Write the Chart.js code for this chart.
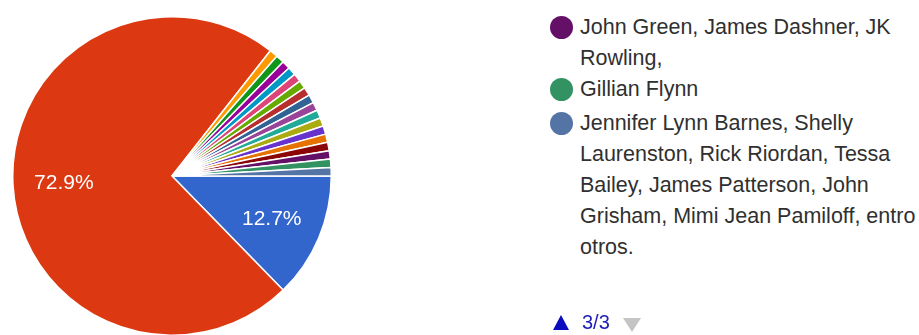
<!DOCTYPE html>
<html>
<head>
<meta charset="utf-8">
<script src="https://cdn.jsdelivr.net/npm/chart.js@4.4.0/dist/chart.umd.min.js"></script>
<style>
  html, body { margin: 0; padding: 0; width: 919px; height: 335px; overflow: hidden; background: #fff; }
  #wrap { position: absolute; left: 12px; top: 16px; width: 320px; height: 320px; }
  #legend { position: absolute; left: 550px; top: 12px; width: 390px; font-family: Arial, "Liberation Sans", sans-serif; font-size: 21.5px; line-height: 31px; color: #303030; }
  .item { position: relative; padding-left: 30px; }
  .item + .item + .item { margin-top: 3px; }
  .dot { position: absolute; left: 0; top: 4px; width: 23px; height: 23px; border-radius: 50%; }
  #pager { position: absolute; left: 0; top: 0; width: 919px; height: 335px; font-family: Arial, "Liberation Sans", sans-serif; font-size: 20px; }
  #pager .up { position: absolute; left: 553px; top: 315px; width: 0; height: 0; border-left: 8px solid transparent; border-right: 8px solid transparent; border-bottom: 15px solid #0b0bbf; }
  #pager .txt { position: absolute; left: 582px; top: 310px; line-height: 24px; color: #2020b8; }
  #pager .down { position: absolute; left: 623px; top: 318px; width: 0; height: 0; border-left: 9px solid transparent; border-right: 9px solid transparent; border-top: 14px solid #c4c4c4; }
</style>
</head>
<body>
<div id="wrap"><canvas id="c"></canvas></div>
<div id="legend"></div>
<div id="pager"></div>
<script>
// Responses per option (118 total)
const categories = ["", "", "", "", "", "", "", "", "", "", "", "", "", "", "", "",
  "John Green, James Dashner, JK Rowling,",
  "Gillian Flynn",
  "Jennifer Lynn Barnes, Shelly Laurenston, Rick Riordan, Tessa Bailey, James Patterson, John Grisham, Mimi Jean Pamiloff, entro otros."];
const values = [15, 86, 1, 1, 1, 1, 1, 1, 1, 1, 1, 1, 1, 1, 1, 1, 1, 1, 1];
const colors = ["#3366cc", "#dc3912", "#ff9900", "#109618", "#990099", "#0099c6", "#dd4477",
  "#66aa00", "#b82e2e", "#316395", "#994499", "#22aa99", "#aaaa11", "#6633cc", "#e67300",
  "#8b0707", "#651067", "#329262", "#5574a6"];
const legendShown = [16, 17, 18];
const pageText = "3/3";

const total = values.reduce((a, b) => a + b, 0);

const pctLabels = {
  id: 'pctLabels',
  afterDatasetsDraw(chart) {
    const ctx = chart.ctx;
    const meta = chart.getDatasetMeta(0);
    ctx.save();
    ctx.fillStyle = '#ffffff';
    ctx.font = '21px Arial, "Liberation Sans", sans-serif';
    ctx.textAlign = 'center';
    ctx.textBaseline = 'middle';
    meta.data.forEach((arc, i) => {
      const frac = values[i] / total;
      if (frac < 0.05) return;
      const p = arc.getProps(['x', 'y', 'startAngle', 'endAngle', 'outerRadius'], true);
      const mid = (p.startAngle + p.endAngle) / 2;
      const r = p.outerRadius * 0.68;
      ctx.fillText((frac * 100).toFixed(1) + '%', p.x + Math.cos(mid) * r, p.y + Math.sin(mid) * r + 1);
    });
    ctx.restore();
  }
};

new Chart(document.getElementById('c'), {
  type: 'pie',
  data: {
    labels: categories.slice(0, values.length),
    datasets: [{
      data: values,
      backgroundColor: colors,
      borderColor: '#ffffff',
      borderWidth: 1.5
    }]
  },
  options: {
    responsive: true,
    maintainAspectRatio: false,
    animation: false,
    rotation: 90,
    layout: { padding: 0 },
    plugins: { legend: { display: false }, tooltip: { enabled: false } }
  },
  plugins: [pctLabels]
});

const lg = document.getElementById('legend');
legendShown.forEach(i => {
  const d = document.createElement('div');
  d.className = 'item';
  const dot = document.createElement('span');
  dot.className = 'dot';
  dot.style.background = colors[i];
  d.appendChild(dot);
  d.appendChild(document.createTextNode(categories[i]));
  lg.appendChild(d);
});
const pg = document.getElementById('pager');
pg.innerHTML = '<span class="up"></span><span class="txt"></span><span class="down"></span>';
pg.querySelector('.txt').textContent = pageText;
</script>
</body>
</html>
